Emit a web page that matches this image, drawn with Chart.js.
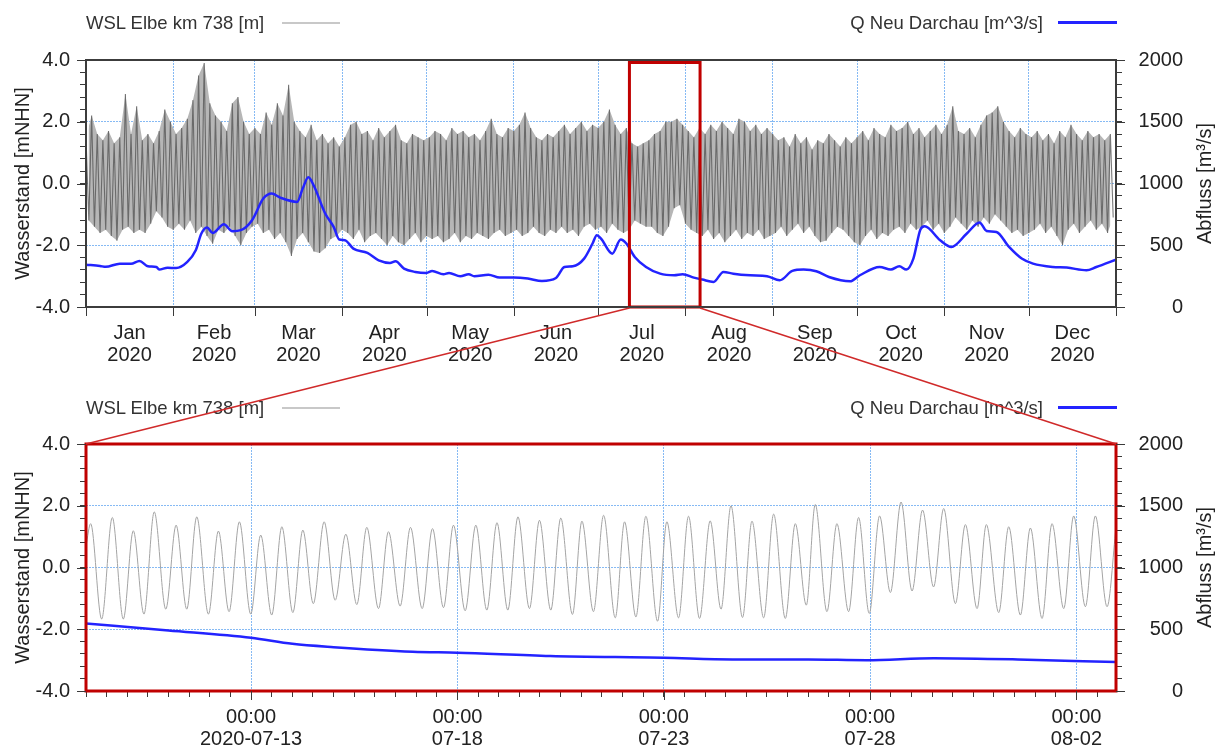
<!DOCTYPE html>
<html>
<head>
<meta charset="utf-8">
<script src="https://cdn.jsdelivr.net/npm/chart.js@4.4.1/dist/chart.umd.min.js"></script>
<style>
  body { margin: 0; background: #fff; }
  #wrap { position: relative; width: 1216px; height: 749px; font-family: "Liberation Sans", Arial, sans-serif; color: #333; overflow: hidden; }
  canvas { position: absolute; left: 0; }
  #topChart { top: 0; }
  #zoomChart { top: 390px; }
  #overlay { top: 0; pointer-events: none; }
  .leg { position: absolute; font-size: 18.5px; line-height: 22px; white-space: nowrap; }
  .sw { position: absolute; height: 0; }
</style>
</head>
<body>
<div id="wrap">
  <canvas id="topChart" width="1216" height="390"></canvas>
  <canvas id="zoomChart" width="1216" height="359"></canvas>

  <div class="leg" style="left:86px;top:12px">WSL Elbe km 738 [m]</div>
  <div class="sw" style="left:282px;top:22px;width:58px;border-top:2px solid #c8c8c8"></div>
  <div class="leg" style="right:173px;top:12px">Q Neu Darchau [m^3/s]</div>
  <div class="sw" style="left:1058px;top:21px;width:59px;border-top:3px solid #2323ff"></div>

  <div class="leg" style="left:86px;top:397px">WSL Elbe km 738 [m]</div>
  <div class="sw" style="left:282px;top:407px;width:58px;border-top:2px solid #c8c8c8"></div>
  <div class="leg" style="right:173px;top:397px">Q Neu Darchau [m^3/s]</div>
  <div class="sw" style="left:1058px;top:406px;width:59px;border-top:3px solid #2323ff"></div>

  <canvas id="overlay" width="1216" height="749"></canvas>
</div>

<script>
// ---- data: whole year 2020 (x = day of year, 0 = Jan 1) ----
const monthNames = ['Jan', 'Feb', 'Mar', 'Apr', 'May', 'Jun', 'Jul', 'Aug', 'Sep', 'Oct', 'Nov', 'Dec'];
const monthStartDays = [0, 31, 60, 91, 121, 152, 182, 213, 244, 274, 305, 335, 366];

// high / low water, one pair every 2 days (high on even day, low on the odd day after)
const wslStepDays = 2;
const wslHigh = [
  1.5, 2.2, 1.6, 1.4, 1.7, 1.3, 1.5, 2.9, 1.6, 2.5, 1.4, 1.6, 1.3, 1.7, 2.4, 2.0,
  1.6, 1.8, 2.1, 2.7, 3.5, 3.9, 2.6, 2.2, 2.0, 1.7, 2.6, 2.8, 2.0, 1.6,
  1.8, 1.6, 2.3, 1.9, 2.6, 2.2, 3.2, 2.0, 1.7, 1.5, 1.9, 1.4, 1.6, 1.3, 1.5, 1.2,
  1.5, 1.9, 2.0, 1.6, 1.7, 1.4, 1.8, 1.5, 1.7, 1.9, 1.4, 1.3, 1.6, 1.5, 1.4,
  1.5, 1.7, 1.6, 1.4, 1.8, 1.6, 1.7, 1.5, 1.6, 1.4, 1.7, 2.1, 1.6, 1.5, 1.8,
  1.7, 1.9, 2.3, 1.8, 1.5, 1.4, 1.6, 1.5, 1.7, 1.9, 1.6, 1.8, 2.0, 1.7, 1.9,
  1.8, 2.0, 2.4, 1.9, 1.6, 1.8, 1.3, 1.2, 1.3, 1.4, 1.6, 1.7, 2.0, 2.0, 2.1, 1.9,
  1.7, 1.5, 1.8, 1.6, 1.9, 1.7, 2.0, 1.8, 1.6, 2.1, 2.0, 1.7, 1.9, 1.6, 1.8,
  1.6, 1.4, 1.5, 1.2, 1.6, 1.3, 1.5, 1.1, 1.4, 1.3, 1.6, 1.4, 1.2, 1.5, 1.3,
  1.5, 1.7, 1.4, 1.8, 1.6, 1.5, 1.9, 1.7, 1.8, 2.0, 1.6, 1.8, 1.5, 1.7, 1.9, 1.6,
  1.9, 2.5, 1.7, 1.6, 1.8, 1.5, 1.9, 2.2, 2.3, 2.5, 2.0, 1.7, 1.5, 1.8, 1.6,
  1.5, 1.7, 1.4, 1.6, 1.3, 1.7, 1.5, 1.9, 1.6, 1.4, 1.7, 1.5, 1.6, 1.4, 1.6
];
const wslLow = [
  -1.2, -1.4, -1.6, -1.5, -1.7, -1.85, -1.5, -1.4, -1.6, -1.5, -1.6, -1.3, -0.9, -1.1, -1.4, -1.5,
  -1.3, -1.5, -1.2, -1.6, -1.4, -1.7, -1.95, -1.5, -1.6, -1.4, -1.7, -2.0, -1.6, -1.4,
  -1.3, -1.6, -1.5, -1.8, -1.6, -1.9, -2.35, -1.8, -1.6, -1.9, -2.2, -2.25, -2.1, -1.8, -1.7, -1.5,
  -1.6, -1.8, -1.5, -1.9, -1.7, -1.6, -1.8, -2.0, -1.7, -1.9, -2.0, -1.8, -1.6, -1.9, -1.7,
  -1.8, -1.7, -1.9, -1.8, -1.6, -1.9, -1.7, -1.8, -1.6, -1.7, -1.8, -1.6, -1.5, -1.7, -1.6,
  -1.5, -1.7, -1.6, -1.4, -1.6, -1.7, -1.5, -1.6, -1.4, -1.6, -1.5, -1.7, -1.4, -1.3, -1.5,
  -1.4, -1.6, -1.3, -1.5, -1.6, -1.5, -1.2, -1.3, -1.4, -1.4, -1.6, -1.7, -1.4, -0.8, -0.7, -1.3,
  -1.5, -1.6, -1.7, -1.5, -1.8, -1.6, -1.9, -1.7, -1.5, -1.8, -1.6, -1.7, -1.5, -1.8, -1.7,
  -1.6, -1.4, -1.7, -1.5, -1.3, -1.6, -1.4, -1.7, -1.9, -1.85, -1.6, -1.4, -1.5, -1.7, -1.9,
  -2.0, -1.7, -1.5, -1.8, -1.6, -1.7, -1.5, -1.4, -1.6, -1.3, -1.5, -1.4, -1.2, -1.5, -1.3, -1.6,
  -1.4, -1.1, -1.3, -1.5, -1.2, -1.4, -1.1, -1.3, -1.0, -1.2, -1.4, -1.6, -1.5, -1.7, -1.6,
  -1.5, -1.3, -1.6, -1.4, -1.7, -2.0, -1.5, -1.3, -1.6, -1.4, -1.2, -1.5, -1.3, -1.6, -1.1
];

// discharge Neu Darchau [m^3/s]
const qDays = [0, 5, 7, 12, 16, 19, 22, 25, 26, 29, 32, 36, 39, 41, 43, 45, 49, 52, 55, 59, 63, 66, 69, 75, 77, 79, 81, 85, 88, 90,
  92, 95, 100, 104, 108, 110, 113, 117, 121, 123, 127, 129, 133, 136, 138, 143, 147, 152, 157, 162, 167, 170, 173, 177, 180, 181.5, 183, 187, 190, 192,
  195, 199, 204, 209, 212, 216, 219, 223, 226.5, 230, 236, 242, 246.5, 251, 255, 259.5, 264, 271.5, 275, 282, 286, 289, 291.5, 294, 296.5, 298, 303.5, 307.5,
  313, 317.5, 320, 323.5, 328, 332.5, 336.5, 343.5, 348.5, 355.5, 359, 366];
const qFlow = [343, 332, 325, 351, 350, 373, 330, 324, 303, 318, 315, 365, 460, 595, 643, 600, 670, 614, 622, 703, 878, 919, 886, 851, 959, 1050, 980, 757, 649, 546,
  541, 473, 438, 378, 357, 370, 311, 284, 276, 292, 265, 276, 249, 265, 249, 262, 238, 238, 230, 211, 235, 324, 330, 392, 514, 581, 554, 432, 546, 514,
  405, 324, 270, 257, 265, 238, 222, 203, 284, 270, 257, 249, 216, 292, 303, 290, 243, 208, 257, 324, 303, 330, 303, 392, 627, 654, 541, 486,
  595, 684, 616, 608, 486, 392, 351, 324, 319, 297, 324, 384];

// zoomed window shown by the red box (days of year)
const zoomBoxDays = [193.1, 218.2];

// ---- data: zoom, 2020-07-09 00:00 onwards (x = hours) ----
const zoomTideHours = [0, 2.7, 9.1, 15.3, 21.7, 27.5, 33.7, 39.7, 46.4, 52.4,
  58.6, 64.4, 71.2, 77.0, 83.2, 89.2, 95.8, 101.6, 108.0, 113.9,
  120.3, 126.1, 132.2, 138.5, 144.9, 151.1, 157.5, 163.3, 170.1, 175.9,
  182.7, 188.7, 195.5, 201.5, 207.9, 213.7, 220.5, 226.7, 233.1, 239.0,
  245.3, 251.2, 257.9, 263.7, 270.3, 276.1, 282.9, 288.4, 295.1, 301.0,
  307.8, 313.2, 319.8, 325.6, 332.4, 337.8, 344.6, 350.4, 356.8, 363.0,
  369.3, 375.1, 381.8, 387.3, 394.1, 399.9, 406.7, 412.5, 418.9, 424.1,
  430.9, 436.7, 443.5, 449.3, 455.5, 461.5, 467.8, 474.0, 480.4, 486.5,
  492.9, 498.8, 505.6, 511.4, 518.2, 523.6, 530.8, 536.6, 543.4, 549.2,
  556.0, 561.8, 568.6, 574.4, 581.2, 587.0, 593.8, 599];
const zoomTideLevels = [0.7, 1.42, -1.67, 1.62, -1.67, 1.19, -1.51, 1.80, -1.35, 1.37,
  -1.35, 1.64, -1.51, 1.18, -1.43, 1.48, -1.51, 1.05, -1.54, 1.32,
  -1.46, 1.21, -1.17, 1.48, -1.06, 1.08, -1.20, 1.30, -1.33, 1.16,
  -1.25, 1.30, -1.33, 1.26, -1.30, 1.37, -1.40, 1.37, -1.38, 1.45,
  -1.38, 1.64, -1.33, 1.53, -1.38, 1.60, -1.52, 1.50, -1.43, 1.69,
  -1.63, 1.48, -1.60, 1.66, -1.74, 1.48, -1.63, 1.66, -1.65, 1.51,
  -1.35, 2.00, -1.62, 1.50, -1.63, 1.73, -1.65, 1.42, -1.22, 2.04,
  -1.43, 1.42, -1.43, 1.62, -1.49, 1.67, -0.81, 2.12, -0.76, 1.86,
  -0.63, 1.91, -1.17, 1.39, -1.33, 1.39, -1.46, 1.32, -1.54, 1.28,
  -1.65, 1.42, -1.33, 1.67, -1.27, 1.67, -1.27, 1.3];
const zoomQHours = [0, 48, 96, 120, 144, 190, 216, 270, 336, 376, 420, 454, 493, 542, 599];
const zoomQFlow = [546, 490, 431, 382, 355, 318, 310, 283, 269, 256, 256, 250, 266, 256, 234];
const zoomEndHour = 599;
const zoomTickHours = [96, 216, 336, 456, 576];
const zoomTickLabels = [['00:00', '2020-07-13'], ['00:00', '07-18'], ['00:00', '07-23'], ['00:00', '07-28'], ['00:00', '08-02']];

// ---- axis ticks ----
const levelLabels = [-4, -2, 0, 2, 4];
const levelGrid = [-2, 0, 2];
const flowLabels = [0, 500, 1000, 1500, 2000];

const levelTicks = [];
for (let i = 0; i <= 20; i++) levelTicks.push(Math.round((-4 + 0.4 * i) * 10) / 10);
const flowTicks = [];
for (let v = 0; v <= 2000; v += 100) flowTicks.push(v);

const GRID_BLUE = '#86baf4';
const GRID_DASH = [2, 1];
const TICK_GREY = '#3a3a3a';
const Q_BLUE = '#2323ff';
const MINOR_TICK = 6;
const MAJOR_TICK = 9;

Chart.defaults.font.family = '"Liberation Sans", Arial, sans-serif';
Chart.defaults.color = '#222';

function levelAxis() {
  return {
    position: 'left', min: -4, max: 4,
    afterBuildTicks: s => { s.ticks = levelTicks.map(v => ({ value: v })); },
    afterFit: s => { s.width = 79; },
    ticks: { autoSkip: false, padding: 7 + MAJOR_TICK - MINOR_TICK, font: { size: 20 }, callback: v => levelLabels.includes(v) ? v.toFixed(1) : '' },
    grid: {
      color: levelTicks.map(v => levelGrid.includes(v) ? GRID_BLUE : 'rgba(0,0,0,0)'),
      tickColor: TICK_GREY, tickLength: MINOR_TICK, lineWidth: 1
    },
    border: { display: false, dash: GRID_DASH },
    title: { display: true, text: 'Wasserstand [mNHN]', font: { size: 20 }, padding: { top: 4, bottom: 0 } }
  };
}

// labels right-aligned at the scale's right edge, so the scale ends at x = 1183
function flowAxis() {
  return {
    position: 'right', min: 0, max: 2000,
    afterBuildTicks: s => { s.ticks = flowTicks.map(v => ({ value: v })); },
    afterFit: s => { s.width = 67; },
    ticks: { autoSkip: false, padding: 14, crossAlign: 'far', font: { size: 20 }, callback: v => flowLabels.includes(v) ? String(v) : '' },
    grid: { display: true, drawOnChartArea: false, color: 'rgba(0,0,0,0)', tickColor: TICK_GREY, tickLength: MINOR_TICK },
    border: { display: false }
  };
}

// frame round the plot, longer major ticks, optional red zoom box, right axis title
const framePlugin = {
  id: 'frame',
  afterDatasetsDraw(chart, args, opts) {
    const { ctx, chartArea: a, scales } = chart;
    ctx.save();
    if (opts.box) {
      const x1 = scales.x.getPixelForValue(opts.box[0]);
      const x2 = scales.x.getPixelForValue(opts.box[1]);
      ctx.strokeStyle = '#c00000';
      ctx.lineWidth = 3;
      ctx.strokeRect(x1, a.top + 2.5, x2 - x1, a.bottom - a.top - 2.5);
    }
    ctx.strokeStyle = opts.color;
    ctx.lineWidth = opts.width;
    ctx.strokeRect(a.left, a.top, a.right - a.left, a.bottom - a.top);

    ctx.strokeStyle = TICK_GREY;
    ctx.lineWidth = 1;
    ctx.beginPath();
    levelLabels.forEach(v => {
      const py = Math.round(scales.y.getPixelForValue(v)) + 0.5;
      ctx.moveTo(a.left - MAJOR_TICK, py); ctx.lineTo(a.left, py);
    });
    flowLabels.forEach(v => {
      const py = Math.round(scales.y1.getPixelForValue(v)) + 0.5;
      ctx.moveTo(a.right, py); ctx.lineTo(a.right + MAJOR_TICK, py);
    });
    opts.majorX.forEach(v => {
      const px = Math.round(scales.x.getPixelForValue(v)) + 0.5;
      ctx.moveTo(px, a.bottom); ctx.lineTo(px, a.bottom + MAJOR_TICK);
    });
    ctx.stroke();
    ctx.restore();
  },
  afterDraw(chart) {
    const { ctx, chartArea: a } = chart;
    ctx.save();
    ctx.translate(1205, (a.top + a.bottom) / 2);
    ctx.rotate(-Math.PI / 2);
    ctx.font = '20px "Liberation Sans", Arial, sans-serif';
    ctx.fillStyle = '#222';
    ctx.textAlign = 'center';
    ctx.textBaseline = 'middle';
    ctx.fillText('Abfluss [m³/s]', 0, 0);
    ctx.restore();
  }
};

// ---- top chart: whole year ----
const monthMidDays = monthNames.map((m, i) => (monthStartDays[i] + monthStartDays[i + 1]) / 2);
const yearTicks = monthStartDays.concat(monthMidDays).sort((a, b) => a - b);

const tideZigzag = [];
const tideHigh = [];
const tideLow = [];
wslHigh.forEach((h, k) => {
  tideZigzag.push({ x: k * wslStepDays, y: h });
  tideZigzag.push({ x: k * wslStepDays + 1, y: wslLow[k] });
  tideHigh.push({ x: k * wslStepDays, y: h });
  tideLow.push({ x: k * wslStepDays + 1, y: wslLow[k] });
});

const topChart = new Chart(document.getElementById('topChart'), {
  type: 'line',
  data: {
    datasets: [
      { label: 'Q Neu Darchau [m^3/s]', data: qDays.map((d, i) => ({ x: d, y: qFlow[i] })), yAxisID: 'y1',
        borderColor: Q_BLUE, borderWidth: 2.5, pointRadius: 0, tension: 0.4, cubicInterpolationMode: 'monotone', order: 0 },
      { label: 'WSL Elbe km 738 [m]', data: tideZigzag, yAxisID: 'y',
        borderColor: 'rgba(88,88,88,0.8)', borderWidth: 1.1, pointRadius: 0, tension: 0, order: 1 },
      { label: 'hw', data: tideHigh, yAxisID: 'y', borderColor: 'transparent', borderWidth: 1,
        pointRadius: 0, fill: '+1', backgroundColor: '#b6b6b6', order: 2 },
      { label: 'lw', data: tideLow, yAxisID: 'y', borderColor: 'transparent', borderWidth: 1,
        pointRadius: 0, fill: false, order: 3 }
    ]
  },
  options: {
    responsive: false, animation: false, events: [],
    layout: { padding: { left: 7, top: 60, right: 33, bottom: 0 } },
    plugins: { legend: { display: false }, tooltip: { enabled: false },
      frame: { color: '#3c3c3c', width: 2, box: zoomBoxDays, majorX: monthStartDays } },
    scales: {
      x: {
        type: 'linear', min: 0, max: 366,
        afterBuildTicks: s => { s.ticks = yearTicks.map(v => ({ value: v })); },
        afterFit: s => { s.height = 83; },
        ticks: {
          autoSkip: false, maxRotation: 0, padding: 7, font: { size: 20, lineHeight: 1.12 },
          callback: v => { const i = monthMidDays.indexOf(v); return i >= 0 ? [monthNames[i], '2020'] : ''; }
        },
        grid: {
          color: yearTicks.map(v => monthStartDays.includes(v) && v > 0 && v < 366 ? GRID_BLUE : 'rgba(0,0,0,0)'),
          tickColor: 'rgba(0,0,0,0)',
          tickLength: 8
        },
        border: { display: false, dash: GRID_DASH }
      },
      y: levelAxis(),
      y1: flowAxis()
    }
  },
  plugins: [framePlugin]
});

// ---- bottom chart: zoom ----
const zoomTicks = [];
for (let h = 0; h <= zoomEndHour; h += 12) zoomTicks.push(h);

const zoomChart = new Chart(document.getElementById('zoomChart'), {
  type: 'line',
  data: {
    datasets: [
      { label: 'Q Neu Darchau [m^3/s]', data: zoomQHours.map((h, i) => ({ x: h, y: zoomQFlow[i] })), yAxisID: 'y1',
        borderColor: Q_BLUE, borderWidth: 2.5, pointRadius: 0, tension: 0.4, cubicInterpolationMode: 'monotone', order: 0 },
      { label: 'WSL Elbe km 738 [m]', data: zoomTideHours.map((h, i) => ({ x: h, y: zoomTideLevels[i] })), yAxisID: 'y',
        borderColor: '#a4a4a4', borderWidth: 1, pointRadius: 0, tension: 0.4, cubicInterpolationMode: 'monotone', order: 1 }
    ]
  },
  options: {
    responsive: false, animation: false, events: [],
    layout: { padding: { left: 7, top: 54, right: 33, bottom: 0 } },
    plugins: { legend: { display: false }, tooltip: { enabled: false },
      frame: { color: '#c00000', width: 3, majorX: zoomTickHours } },
    scales: {
      x: {
        type: 'linear', min: 0, max: zoomEndHour,
        afterBuildTicks: s => { s.ticks = zoomTicks.map(v => ({ value: v })); },
        afterFit: s => { s.height = 58; },
        ticks: {
          autoSkip: false, maxRotation: 0, padding: 9, font: { size: 20, lineHeight: 1.1 },
          callback: v => { const i = zoomTickHours.indexOf(v); return i >= 0 ? zoomTickLabels[i] : ''; }
        },
        grid: {
          color: zoomTicks.map(v => zoomTickHours.includes(v) ? GRID_BLUE : 'rgba(0,0,0,0)'),
          tickColor: TICK_GREY, tickLength: MINOR_TICK
        },
        border: { display: false, dash: GRID_DASH }
      },
      y: levelAxis(),
      y1: flowAxis()
    }
  },
  plugins: [framePlugin]
});

// ---- red lines from the box to the zoom panel ----
(function drawLinks() {
  const ctx = document.getElementById('overlay').getContext('2d');
  const xs = topChart.scales.x;
  const bx1 = xs.getPixelForValue(zoomBoxDays[0]);
  const bx2 = xs.getPixelForValue(zoomBoxDays[1]);
  const by = topChart.chartArea.bottom + 1;
  const za = zoomChart.chartArea;
  const zTop = 390 + za.top;
  ctx.strokeStyle = '#d02a2a';
  ctx.lineWidth = 1.5;
  ctx.beginPath();
  ctx.moveTo(bx1, by); ctx.lineTo(za.left, zTop);
  ctx.moveTo(bx2, by); ctx.lineTo(za.right, zTop);
  ctx.stroke();
})();
</script>
</body>
</html>
